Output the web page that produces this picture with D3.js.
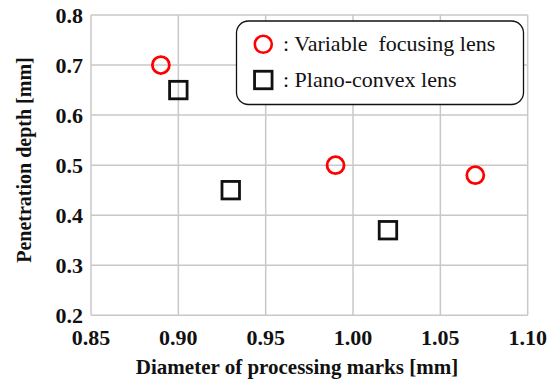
<!DOCTYPE html>
<html>
<head>
<meta charset="utf-8">
<script src="https://cdn.jsdelivr.net/npm/d3@7"></script>
</head>
<body style="margin:0;background:#fff">
<svg width="556" height="380"></svg>
<script>
// Penetration depth vs. diameter of processing marks
const variableX = [0.89, 0.99, 1.07];
const variableY = [0.70, 0.50, 0.48];
const planoX = [0.90, 0.93, 1.02];
const planoY = [0.65, 0.45, 0.37];
const xTicks = [0.85, 0.90, 0.95, 1.00, 1.05, 1.10];
const yTicks = [0.2, 0.3, 0.4, 0.5, 0.6, 0.7, 0.8];
const legendLabels = [": Variable  focusing lens", ": Plano-convex lens"];
const xTitle = "Diameter of processing marks [mm]";
const yTitle = "Penetration depth [mm]";

const svg = d3.select("svg");
const W = 556, H = 380;
const x = d3.scaleLinear().domain([0.85, 1.10]).range([91, 527.7]);
const y = d3.scaleLinear().domain([0.2, 0.8]).range([315.3, 15]);
const gridColor = "#c8c8c8";

// grid
svg.append("g").selectAll("line").data(xTicks).join("line")
  .attr("x1", d => x(d)).attr("x2", d => x(d))
  .attr("y1", y(0.2)).attr("y2", y(0.8))
  .attr("stroke", gridColor).attr("stroke-width", 1.5);
svg.append("g").selectAll("line").data(yTicks).join("line")
  .attr("y1", d => y(d)).attr("y2", d => y(d))
  .attr("x1", x(0.85)).attr("x2", x(1.10))
  .attr("stroke", gridColor).attr("stroke-width", 1.5);

// tick labels drawn from the scales
svg.append("g").selectAll("text").data(xTicks).join("text")
  .attr("x", d => x(d)).attr("y", 345)
  .attr("text-anchor", "middle")
  .attr("font-family", "Liberation Serif").attr("font-size", 22).attr("font-weight", "bold")
  .attr("fill", "#111")
  .text(d => d.toFixed(2));
svg.append("g").selectAll("text").data(yTicks).join("text")
  .attr("x", 83).attr("y", d => y(d) + 8)
  .attr("text-anchor", "end")
  .attr("font-family", "Liberation Serif").attr("font-size", 22).attr("font-weight", "bold")
  .attr("fill", "#111")
  .text(d => d.toFixed(1));

// axis titles
svg.append("text")
  .attr("x", 297).attr("y", 374)
  .attr("text-anchor", "middle")
  .attr("font-family", "Liberation Serif").attr("font-size", 21).attr("font-weight", "bold")
  .attr("fill", "#111")
  .text(xTitle);
svg.append("text")
  .attr("transform", "translate(31,160) rotate(-90)")
  .attr("text-anchor", "middle")
  .attr("font-family", "Liberation Serif").attr("font-size", 20).attr("font-weight", "bold")
  .attr("fill", "#111")
  .text(yTitle);

// markers
const circleR = 8.5, sq = 17.5;
svg.append("g").selectAll("circle").data(variableX.map((d, i) => [d, variableY[i]])).join("circle")
  .attr("cx", d => x(d[0])).attr("cy", d => y(d[1]))
  .attr("r", circleR)
  .attr("fill", "none").attr("stroke", "#ff0000").attr("stroke-width", 2.8);
svg.append("g").selectAll("rect").data(planoX.map((d, i) => [d, planoY[i]])).join("rect")
  .attr("x", d => x(d[0]) - sq / 2).attr("y", d => y(d[1]) - sq / 2)
  .attr("width", sq).attr("height", sq)
  .attr("fill", "none").attr("stroke", "#111").attr("stroke-width", 2.8);

// legend
const lg = svg.append("g");
lg.append("rect")
  .attr("x", 236.5).attr("y", 21).attr("width", 287).attr("height", 83.5)
  .attr("rx", 12).attr("ry", 12)
  .attr("fill", "#fff").attr("stroke", "#111").attr("stroke-width", 1.3);
lg.append("circle")
  .attr("cx", 263.3).attr("cy", 44.3).attr("r", circleR)
  .attr("fill", "none").attr("stroke", "#ff0000").attr("stroke-width", 2.6);
lg.append("rect")
  .attr("x", 263.3 - sq / 2).attr("y", 80 - sq / 2).attr("width", sq).attr("height", sq)
  .attr("fill", "none").attr("stroke", "#111").attr("stroke-width", 2.8);
lg.selectAll("text").data(legendLabels).join("text")
  .attr("x", 283).attr("y", (d, i) => 51 + i * 36)
  .attr("font-family", "Liberation Serif").attr("font-size", 22)
  .attr("fill", "#111")
  .attr("xml:space", "preserve")
  .text(d => d);
</script>
</body>
</html>
